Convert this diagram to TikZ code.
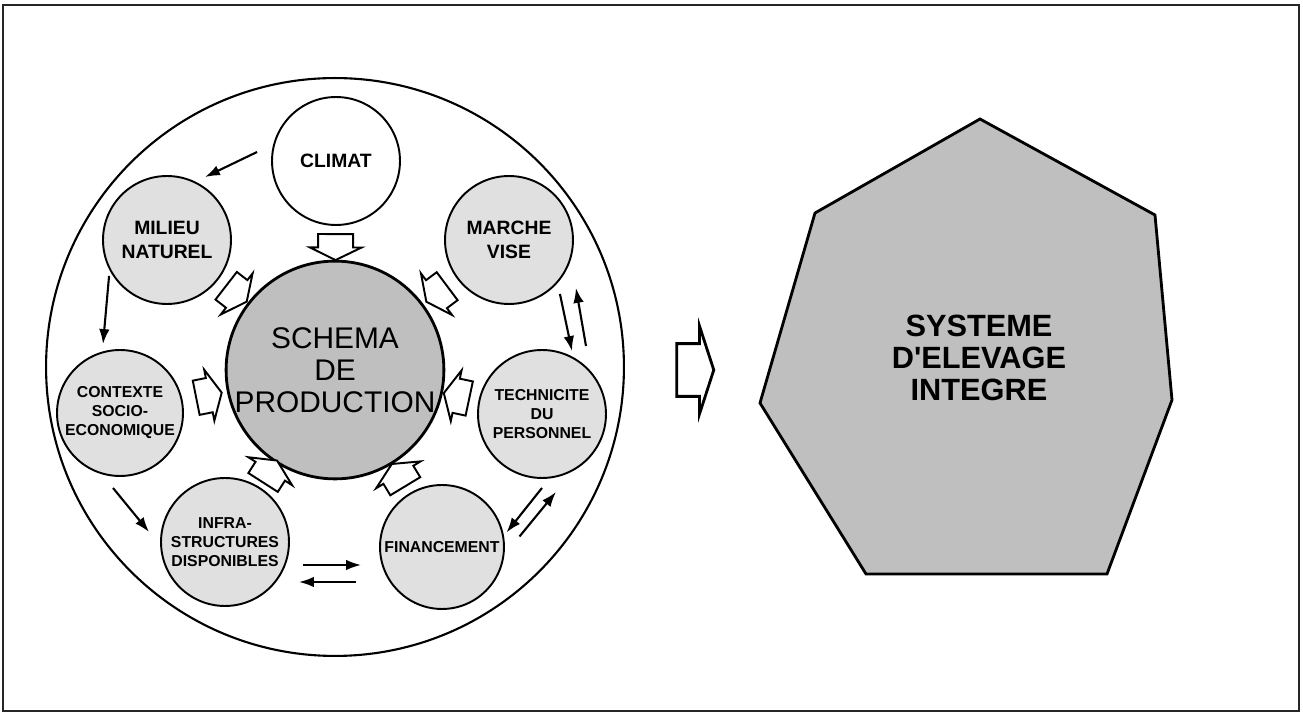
\documentclass[tikz,border=0pt]{standalone}
\usepackage{fontspec}
\setmainfont{Liberation Sans}
\usepackage{tikz}
\usetikzlibrary{positioning,shapes.arrows,arrows.meta}

\tikzset{
  factor/.style={circle, draw, line width=1.1pt, fill=black!12, align=center, inner sep=0pt,
    minimum size=2.56cm, font=\bfseries\fontsize{9}{10.8}\selectfont},
  bigfactor/.style={factor, font=\bfseries\fontsize{11}{14}\selectfont},
  core/.style={circle, draw, line width=1.6pt, fill=black!25, align=center, inner sep=0pt,
    minimum size=4.24cm, font=\fontsize{17}{18.3}\selectfont},
  ring/.style={circle, draw, line width=1.2pt, minimum size=11.56cm, inner sep=0pt},
  blockarrow/.style={single arrow, draw, fill=white, line width=1.1pt, inner xsep=0pt, inner ysep=0.33cm,
    minimum height=0.52cm, minimum width=1.0cm, single arrow head extend=0.17cm,
    single arrow tip angle=128, sloped, allow upside down},
  bigarrow/.style={single arrow, draw, fill=white, line width=1.6pt, inner xsep=0pt, inner ysep=0.5cm,
    minimum height=0.74cm, minimum width=1.7cm, single arrow head extend=0.35cm,
    single arrow tip angle=144},
  flow/.style={line width=1.2pt, -{Latex[length=8.5pt,width=6pt]}},
  hepta/.style={draw, line width=1.6pt, fill=black!25, line join=miter},
  frame/.style={draw, line width=0.9pt, black!85}
}

\begin{document}
\begin{tikzpicture}[x=0.02cm, y=-0.02cm]
	\useasboundingbox (0,0) rectangle (1303,712);
	\draw[frame] (3,5) rectangle (1299,711);
	\node[ring] (ring) at (335,367) {};
	\node[core] (schema) at (335,370) {SCHEMA\\DE\\PRODUCTION};
	\node[bigfactor, fill=white] (clim) at (336,161) {CLIMAT};
	\node[bigfactor] (mil) at (167,240) {MILIEU\\NATUREL};
	\node[bigfactor] (march) at (509,240) {MARCHE\\VISE};
	\node[factor, minimum size=2.52cm] (ctx) at (120,413) {CONTEXTE\\SOCIO-\\ECONOMIQUE};
	\node[factor] (tech) at (542,414) {TECHNICITE\\DU\\PERSONNEL};
	\node[factor] (infra) at (225,542) {INFRA-\\STRUCTURES\\DISPONIBLES};
	\node[factor, minimum size=2.48cm] (fin) at (442,547) {FINANCEMENT};
	\foreach \f in {clim,mil,march,ctx,tech,infra,fin}
		\path (\f) -- (schema) node[blockarrow, midway] {};
	\draw[flow] ([shift={(-14,-9)}]clim.west) -- ([shift={(38,2)}]mil.north);
	\draw[flow] ([shift={(-12,-10)}]mil.south west) -- ([shift={(-17,-5)}]ctx.north);
	\draw[flow] ([shift={(-7,11)}]ctx.south) -- ([shift={(-11,-10)}]infra.west);
	\draw[flow] ([shift={(13,23)}]infra.east) -- ([shift={(-18,18)}]fin.west);
	\draw[flow] ([shift={(-23,35)}]fin.west) -- ([shift={(9,40)}]infra.east);
	\draw[flow] ([shift={(0,9)}]tech.south) -- ([shift={(20,30)}]fin.north east);
	\draw[flow] ([shift={(33,34)}]fin.north east) -- ([shift={(14,13)}]tech.south);
	\draw[flow] ([shift={(5,8)}]march.south east) -- ([shift={(30,2)}]tech.north);
	\draw[flow] ([shift={(44,-3)}]tech.north) -- ([shift={(21,2)}]march.south east);
	\draw[hepta] (980,119) -- (1155,215) -- (1172,400) -- (1107,574) -- (866,574) -- (760,403) -- (815,213) -- cycle;
	\node[align=center, font=\bfseries\fontsize{17.5}{18.3}\selectfont] (sys) at (979,358) {SYSTEME\\D\textquotesingle ELEVAGE\\INTEGRE};
	\node[bigarrow] (out) at (691,370) {};
\end{tikzpicture}
\end{document}
